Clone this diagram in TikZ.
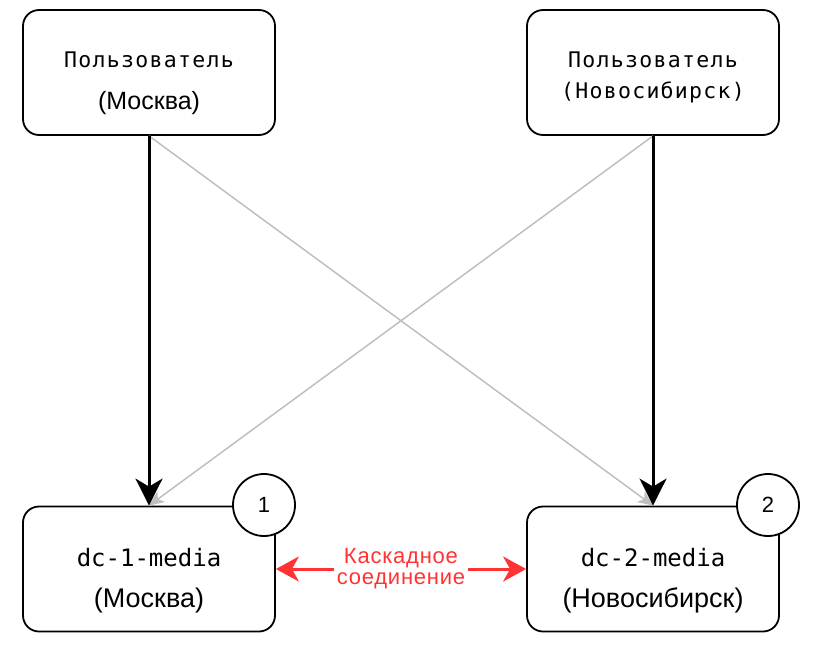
\documentclass[tikz,border=0pt]{standalone}
\usepackage{fontspec}
\setmainfont{Liberation Sans}
\newfontfamily\cyrmono[LetterSpace=6]{DejaVu Sans Mono}
\newfontfamily\latmono{DejaVu Sans Mono}
\newfontfamily\redsans[LetterSpace=3.5]{Liberation Sans}
\usetikzlibrary{arrows.meta}
\definecolor{redc}{HTML}{FF3333}
\definecolor{grayc}{HTML}{BFBFBF}
\begin{document}
\begin{tikzpicture}[x=1pt,y=-1pt,
  box/.style={draw,line width=1.8pt,rounded corners=16pt,minimum width=252pt,minimum height=125pt,fill=white,inner sep=0pt},
  badge/.style={draw,circle,line width=1.8pt,minimum size=62pt,fill=white,inner sep=0pt,font=\fontsize{22}{26}\selectfont},
  cyrtext/.style={anchor=base,inner sep=0pt,font=\cyrmono\fontsize{21.5}{24}\selectfont},
  lattext/.style={anchor=base,inner sep=0pt,font=\latmono\fontsize{24}{28}\selectfont},
  sanstext/.style={anchor=base,inner sep=0pt,font=\fontsize{#1}{#1}\selectfont},
  mainarrow/.style={line width=3pt,-{Stealth[length=27pt,width=27pt,inset=8pt]}},
  crossarrow/.style={grayc,line width=1.5pt,-{Stealth[length=15pt,width=13pt,inset=4pt]}},
  cascade/.style={redc,line width=3pt,{Stealth[length=23pt,width=25pt,inset=7pt]}-{Stealth[length=23pt,width=25pt,inset=7pt]}},
  cascadelabel/.style={fill=white,text=redc,inner sep=3pt,align=center,font=\redsans\fontsize{22}{21}\selectfont},
]
\useasboundingbox (0,0) rectangle (816,653);

% boxes
\node[box] (u1) at (149,72.5) {};
\node[box] (u2) at (653,72.5) {};
\node[box] (d1) at (149,569) {};
\node[box] (d2) at (653,569) {};

% texts
\node[cyrtext] (u1a) at (149,67) {Пользователь};
\node[sanstext=25] (u1b) at (149,109) {(Москва)};
\node[cyrtext] (u2a) at (653,67) {Пользователь};
\node[cyrtext] (u2b) at (653,98) {(Новосибирск)};
\node[lattext] (d1a) at (149,566) {dc-1-media};
\node[sanstext=27] (d1b) at (149,607) {(Москва)};
\node[lattext] (d2a) at (653,566) {dc-2-media};
\node[sanstext=27] (d2b) at (653,607) {(Новосибирск)};

% connectors
\draw[crossarrow] (u1.south) -- (d2.north);
\draw[crossarrow] (u2.south) -- (d1.north);
\draw[mainarrow] (u1.south) -- (d1.north);
\draw[mainarrow] (u2.south) -- (d2.north);
\draw[cascade] (d1.east) -- (d2.west) node[midway,cascadelabel] (lbl) {Каскадное\\соединение};

% badges
\node[badge] (b1) at (264,505) {1};
\node[badge] (b2) at (768,505) {2};
\end{tikzpicture}
\end{document}
